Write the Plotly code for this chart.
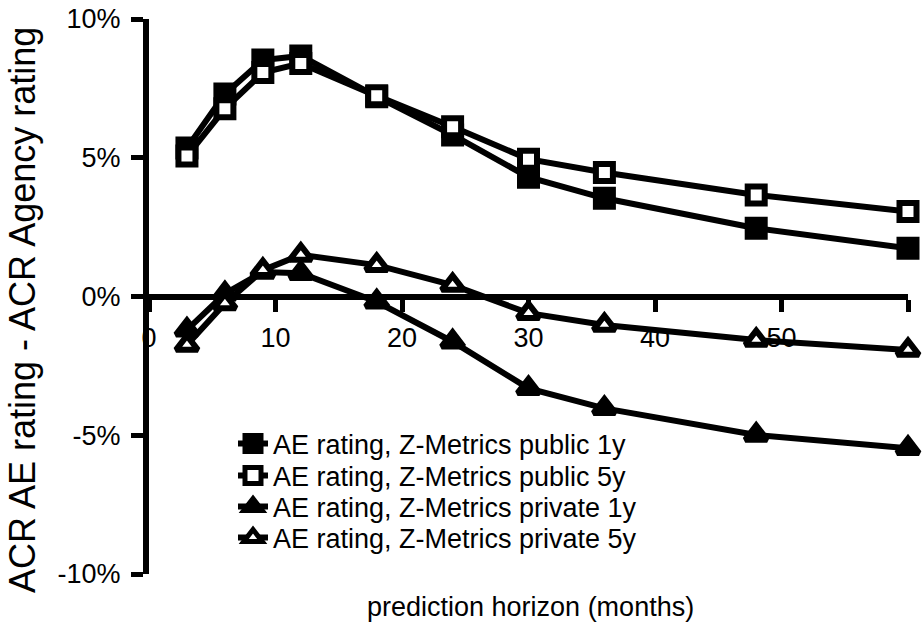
import plotly.graph_objects as go

# ---- data ----
horizon_months = [3, 6, 9, 12, 18, 24, 30, 36, 48, 60]
public_1y = [5.35, 7.30, 8.52, 8.67, 7.20, 5.82, 4.30, 3.54, 2.46, 1.74]
public_5y = [5.06, 6.77, 8.07, 8.40, 7.23, 6.12, 4.95, 4.47, 3.66, 3.06]
private_1y = [-1.20, 0.10, 0.88, 0.84, -0.19, -1.63, -3.31, -4.03, -4.99, -5.47]
private_5y = [-1.75, -0.25, 0.95, 1.50, 1.13, 0.41, -0.60, -1.03, -1.57, -1.93]

series_names = [
    "AE rating, Z-Metrics public 1y",
    "AE rating, Z-Metrics public 5y",
    "AE rating, Z-Metrics private 1y",
    "AE rating, Z-Metrics private 5y",
]
x_tick_vals = [0, 10, 20, 30, 40, 50, 60]
x_tick_labels = ["0", "10", "20", "30", "40", "50", "60"]
y_tick_vals = [-10, -5, 0, 5, 10]
y_tick_labels = ["-10%", "-5%", "0%", "5%", "10%"]
x_title = "prediction horizon (months)"
y_title = "ACR AE rating - ACR Agency rating"

# ---- figure ----
W, H = 922, 630
ML, MR, MT, MB = 149, 14, 19, 56
PW, PH = W - ML - MR, H - MT - MB
FONT = "Liberation Sans, Arial, sans-serif"

styles = [
    dict(symbol="square", color="black"),
    dict(symbol="square", color="white"),
    dict(symbol="triangle-up", color="black"),
    dict(symbol="triangle-up", color="white"),
]
values = [public_1y, public_5y, private_1y, private_5y]
legend_ids = ["legend", "legend2", "legend3", "legend4"]
legend_rows_px = [444, 476, 507, 538]

fig = go.Figure()
for name, vals, st, lid in zip(series_names, values, styles, legend_ids):
    fig.add_trace(go.Scatter(
        x=horizon_months, y=vals, name=name, mode="lines+markers",
        line=dict(color="black", width=6),
        marker=dict(symbol=st["symbol"], size=17 if "square" in st["symbol"] else 19,
                    color=st["color"], line=dict(color="black", width=6)),
        cliponaxis=False, legend=lid, showlegend=True,
    ))

legend_left_px = 233
layout_legends = {}
for lid, ypx in zip(legend_ids, legend_rows_px):
    layout_legends[lid] = dict(
        x=(legend_left_px - ML) / PW, xanchor="left",
        y=(H - MB - ypx) / PH, yanchor="middle",
        bgcolor="rgba(0,0,0,0)", borderwidth=0,
        font=dict(family=FONT, size=27, color="black"),
        itemwidth=30, visible=True,
    )

axis_common = dict(
    showline=True, linewidth=6, linecolor="black",
    ticks="outside", ticklen=12, tickwidth=5, tickcolor="black",
    showgrid=False, zeroline=False, automargin=False,
    tickfont=dict(family=FONT, size=27, color="black"),
    layer="below traces",
)

fig.update_layout(
    width=W, height=H, autosize=False, showlegend=True,
    margin=dict(l=ML, r=MR, t=MT, b=MB, pad=0, autoexpand=False),
    paper_bgcolor="white", plot_bgcolor="white",
    font=dict(family=FONT, size=27, color="black"),
    xaxis=dict(range=[0, 60], tickvals=x_tick_vals, ticktext=x_tick_labels,
               anchor="free", position=0.5, ticklabelstandoff=3, **axis_common),
    yaxis=dict(range=[-10, 10], tickvals=y_tick_vals, ticktext=y_tick_labels,
               ticklabelstandoff=5, **axis_common),
    annotations=[
        dict(text=x_title, xref="paper", yref="paper", x=(530 - ML) / PW, y=(H - MB - 607) / PH,
             xanchor="center", yanchor="middle", showarrow=False,
             font=dict(family=FONT, size=27, color="black")),
        dict(text=y_title, xref="paper", yref="paper", x=0, xshift=22 - ML,
             y=(H - MB - 310) / PH, xanchor="center", yanchor="middle",
             textangle=-90, showarrow=False,
             font=dict(family=FONT, size=36, color="black")),
    ],
    **layout_legends,
)

fig.write_html("out.html", config={"displayModeBar": False},
               post_script="document.body.style.margin='0';")
